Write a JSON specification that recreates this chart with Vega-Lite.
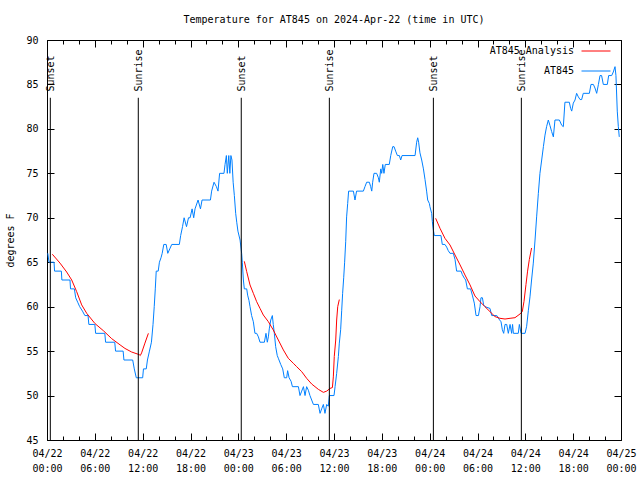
{
  "$schema": "https://vega.github.io/schema/vega-lite/v6.json",
  "width": 574,
  "height": 400,
  "autosize": {"type": "none"},
  "padding": {"left": 47, "top": 40, "right": 19, "bottom": 40},
  "background": "white",
  "title": {"text": "Temperature for AT845 on 2024-Apr-22 (time in UTC)", "fontSize": 10, "fontWeight": "normal", "font": "DejaVu Sans Mono", "anchor": "middle", "offset": 10, "color": "black"},
  "config": {
    "font": "DejaVu Sans Mono",
    "view": {"stroke": "black", "strokeWidth": 1},
    "axis": {"domain": false, "grid": false, "labelFont": "DejaVu Sans Mono", "labelFontSize": 10, "labelColor": "black", "tickColor": "black", "tickWidth": 1, "titleFont": "DejaVu Sans Mono", "titleFontSize": 10, "titleFontWeight": "normal", "titleColor": "black", "labelFlush": false, "labelOverlap": false, "labelBound": false},
    "legend": {"labelFont": "DejaVu Sans Mono", "labelFontSize": 10, "labelColor": "black"}
  },
  "datasets": {
    "obs": [
      {"t":"2024-04-22T00:06Z","v":66},{"t":"2024-04-22T00:15Z","v":65},{"t":"2024-04-22T00:53Z","v":65},{"t":"2024-04-22T00:57Z","v":64},{"t":"2024-04-22T01:48Z","v":64},{"t":"2024-04-22T01:52Z","v":63},{"t":"2024-04-22T02:53Z","v":63},{"t":"2024-04-22T02:57Z","v":62},{"t":"2024-04-22T03:26Z","v":62},{"t":"2024-04-22T03:36Z","v":61},{"t":"2024-04-22T03:51Z","v":60.5},{"t":"2024-04-22T04:06Z","v":60},{"t":"2024-04-22T04:27Z","v":59.5},{"t":"2024-04-22T04:45Z","v":59},{"t":"2024-04-22T05:09Z","v":59},{"t":"2024-04-22T05:15Z","v":58},{"t":"2024-04-22T06:00Z","v":58},{"t":"2024-04-22T06:06Z","v":57},{"t":"2024-04-22T07:15Z","v":57},{"t":"2024-04-22T07:21Z","v":56},{"t":"2024-04-22T08:30Z","v":56},{"t":"2024-04-22T08:36Z","v":55},{"t":"2024-04-22T09:33Z","v":55},{"t":"2024-04-22T09:39Z","v":54},{"t":"2024-04-22T10:45Z","v":54},{"t":"2024-04-22T10:57Z","v":53},{"t":"2024-04-22T11:12Z","v":52},{"t":"2024-04-22T12:00Z","v":52},{"t":"2024-04-22T12:06Z","v":53},{"t":"2024-04-22T12:27Z","v":53},{"t":"2024-04-22T12:36Z","v":54},{"t":"2024-04-22T12:51Z","v":55},{"t":"2024-04-22T13:06Z","v":56},{"t":"2024-04-22T13:18Z","v":58},{"t":"2024-04-22T13:27Z","v":60},{"t":"2024-04-22T13:35Z","v":62},{"t":"2024-04-22T13:42Z","v":64},{"t":"2024-04-22T13:57Z","v":64},{"t":"2024-04-22T14:06Z","v":65},{"t":"2024-04-22T14:18Z","v":65.5},{"t":"2024-04-22T14:27Z","v":66},{"t":"2024-04-22T14:39Z","v":67},{"t":"2024-04-22T14:57Z","v":67},{"t":"2024-04-22T15:09Z","v":66},{"t":"2024-04-22T15:24Z","v":66.5},{"t":"2024-04-22T15:39Z","v":67},{"t":"2024-04-22T16:36Z","v":67},{"t":"2024-04-22T16:46Z","v":68},{"t":"2024-04-22T17:00Z","v":69},{"t":"2024-04-22T17:12Z","v":70},{"t":"2024-04-22T17:30Z","v":69},{"t":"2024-04-22T17:45Z","v":70},{"t":"2024-04-22T17:57Z","v":70},{"t":"2024-04-22T18:12Z","v":71},{"t":"2024-04-22T18:24Z","v":70},{"t":"2024-04-22T18:34Z","v":71},{"t":"2024-04-22T18:57Z","v":72},{"t":"2024-04-22T19:15Z","v":71},{"t":"2024-04-22T19:27Z","v":72},{"t":"2024-04-22T20:30Z","v":72},{"t":"2024-04-22T20:39Z","v":73},{"t":"2024-04-22T20:57Z","v":74},{"t":"2024-04-22T21:15Z","v":73.5},{"t":"2024-04-22T21:27Z","v":73},{"t":"2024-04-22T21:39Z","v":75},{"t":"2024-04-22T22:12Z","v":75},{"t":"2024-04-22T22:20Z","v":76},{"t":"2024-04-22T22:30Z","v":77},{"t":"2024-04-22T22:37Z","v":75},{"t":"2024-04-22T22:48Z","v":77},{"t":"2024-04-22T22:56Z","v":75},{"t":"2024-04-22T23:04Z","v":77},{"t":"2024-04-22T23:12Z","v":76.5},{"t":"2024-04-22T23:21Z","v":74},{"t":"2024-04-22T23:30Z","v":72.5},{"t":"2024-04-22T23:40Z","v":70.5},{"t":"2024-04-22T23:48Z","v":69.5},{"t":"2024-04-22T23:57Z","v":68.5},
      {"t":"2024-04-23T00:13Z","v":67.5},{"t":"2024-04-23T00:25Z","v":66},{"t":"2024-04-23T00:30Z","v":65},{"t":"2024-04-23T00:38Z","v":63},{"t":"2024-04-23T00:45Z","v":62},{"t":"2024-04-23T01:03Z","v":62},{"t":"2024-04-23T01:10Z","v":61.3},{"t":"2024-04-23T01:20Z","v":60.7},{"t":"2024-04-23T01:28Z","v":60},{"t":"2024-04-23T01:40Z","v":59},{"t":"2024-04-23T01:53Z","v":58.3},{"t":"2024-04-23T02:05Z","v":57},{"t":"2024-04-23T02:18Z","v":57},{"t":"2024-04-23T02:31Z","v":56.6},{"t":"2024-04-23T02:43Z","v":56},{"t":"2024-04-23T03:16Z","v":56},{"t":"2024-04-23T03:28Z","v":57},{"t":"2024-04-23T03:38Z","v":56},{"t":"2024-04-23T03:46Z","v":56.6},{"t":"2024-04-23T03:53Z","v":57.5},{"t":"2024-04-23T04:04Z","v":58.5},{"t":"2024-04-23T04:16Z","v":59},{"t":"2024-04-23T04:23Z","v":58},{"t":"2024-04-23T04:31Z","v":57},{"t":"2024-04-23T04:41Z","v":55.5},{"t":"2024-04-23T04:53Z","v":54.5},{"t":"2024-04-23T05:01Z","v":54.2},{"t":"2024-04-23T05:19Z","v":53.5},{"t":"2024-04-23T05:34Z","v":53},{"t":"2024-04-23T05:46Z","v":52},{"t":"2024-04-23T06:04Z","v":52},{"t":"2024-04-23T06:11Z","v":52.8},{"t":"2024-04-23T06:22Z","v":52},{"t":"2024-04-23T06:37Z","v":51.6},{"t":"2024-04-23T06:47Z","v":51},{"t":"2024-04-23T07:32Z","v":51},{"t":"2024-04-23T07:44Z","v":50},{"t":"2024-04-23T07:57Z","v":50.5},{"t":"2024-04-23T08:10Z","v":51},{"t":"2024-04-23T08:22Z","v":50},{"t":"2024-04-23T08:34Z","v":51},{"t":"2024-04-23T08:47Z","v":50.6},{"t":"2024-04-23T08:59Z","v":50},{"t":"2024-04-23T09:25Z","v":49},{"t":"2024-04-23T10:02Z","v":49},{"t":"2024-04-23T10:15Z","v":48},{"t":"2024-04-23T10:27Z","v":48.5},{"t":"2024-04-23T10:40Z","v":49},{"t":"2024-04-23T10:52Z","v":48},{"t":"2024-04-23T11:05Z","v":49},{"t":"2024-04-23T11:17Z","v":48.8},{"t":"2024-04-23T11:25Z","v":50},{"t":"2024-04-23T12:00Z","v":50},{"t":"2024-04-23T12:08Z","v":51},{"t":"2024-04-23T12:20Z","v":52.5},{"t":"2024-04-23T12:33Z","v":54.4},{"t":"2024-04-23T12:40Z","v":55.9},{"t":"2024-04-23T12:50Z","v":57.4},{"t":"2024-04-23T12:58Z","v":59.6},{"t":"2024-04-23T13:05Z","v":61.5},{"t":"2024-04-23T13:13Z","v":63.25},{"t":"2024-04-23T13:20Z","v":65},{"t":"2024-04-23T13:28Z","v":67.3},{"t":"2024-04-23T13:35Z","v":70.1},{"t":"2024-04-23T13:43Z","v":71.6},{"t":"2024-04-23T13:50Z","v":73},{"t":"2024-04-23T14:26Z","v":73},{"t":"2024-04-23T14:38Z","v":72},{"t":"2024-04-23T14:50Z","v":73},{"t":"2024-04-23T15:41Z","v":73},{"t":"2024-04-23T15:53Z","v":73.5},{"t":"2024-04-23T16:06Z","v":74},{"t":"2024-04-23T16:26Z","v":74},{"t":"2024-04-23T16:36Z","v":73.5},{"t":"2024-04-23T16:44Z","v":73},{"t":"2024-04-23T16:51Z","v":74},{"t":"2024-04-23T17:01Z","v":75},{"t":"2024-04-23T17:21Z","v":75},{"t":"2024-04-23T17:34Z","v":74.5},{"t":"2024-04-23T17:41Z","v":74},{"t":"2024-04-23T17:52Z","v":75.5},{"t":"2024-04-23T17:59Z","v":75},{"t":"2024-04-23T18:07Z","v":76},{"t":"2024-04-23T18:16Z","v":75},{"t":"2024-04-23T18:26Z","v":76},{"t":"2024-04-23T18:56Z","v":76},{"t":"2024-04-23T19:07Z","v":77},{"t":"2024-04-23T19:22Z","v":78},{"t":"2024-04-23T19:32Z","v":78},{"t":"2024-04-23T19:44Z","v":77.5},{"t":"2024-04-23T19:57Z","v":77},{"t":"2024-04-23T20:12Z","v":77},{"t":"2024-04-23T20:22Z","v":76.5},{"t":"2024-04-23T20:32Z","v":77},{"t":"2024-04-23T22:10Z","v":77},{"t":"2024-04-23T22:22Z","v":78.5},{"t":"2024-04-23T22:30Z","v":79},{"t":"2024-04-23T22:37Z","v":78.5},{"t":"2024-04-23T22:47Z","v":77.3},{"t":"2024-04-23T23:00Z","v":76.5},{"t":"2024-04-23T23:13Z","v":75.5},{"t":"2024-04-23T23:25Z","v":74.3},{"t":"2024-04-23T23:37Z","v":73},{"t":"2024-04-23T23:45Z","v":72},{"t":"2024-04-23T23:58Z","v":71.6},
      {"t":"2024-04-24T00:02Z","v":71.25},{"t":"2024-04-24T00:15Z","v":70.5},{"t":"2024-04-24T00:20Z","v":69.6},{"t":"2024-04-24T00:28Z","v":68.6},{"t":"2024-04-24T00:35Z","v":68},{"t":"2024-04-24T01:25Z","v":68},{"t":"2024-04-24T01:35Z","v":67},{"t":"2024-04-24T01:55Z","v":67},{"t":"2024-04-24T02:08Z","v":66.7},{"t":"2024-04-24T02:20Z","v":66.3},{"t":"2024-04-24T02:33Z","v":66},{"t":"2024-04-24T02:58Z","v":66},{"t":"2024-04-24T03:11Z","v":65.3},{"t":"2024-04-24T03:23Z","v":64},{"t":"2024-04-24T03:56Z","v":64},{"t":"2024-04-24T04:06Z","v":63.6},{"t":"2024-04-24T04:21Z","v":63.2},{"t":"2024-04-24T04:31Z","v":63},{"t":"2024-04-24T04:44Z","v":62},{"t":"2024-04-24T05:08Z","v":62},{"t":"2024-04-24T05:21Z","v":61.3},{"t":"2024-04-24T05:36Z","v":60.4},{"t":"2024-04-24T05:49Z","v":59},{"t":"2024-04-24T06:07Z","v":59},{"t":"2024-04-24T06:19Z","v":60},{"t":"2024-04-24T06:26Z","v":61},{"t":"2024-04-24T06:37Z","v":61},{"t":"2024-04-24T06:46Z","v":60.2},{"t":"2024-04-24T06:56Z","v":60},{"t":"2024-04-24T07:34Z","v":59.8},{"t":"2024-04-24T07:47Z","v":59},{"t":"2024-04-24T08:25Z","v":59},{"t":"2024-04-24T08:42Z","v":58.6},{"t":"2024-04-24T08:57Z","v":58.3},{"t":"2024-04-24T09:07Z","v":57.4},{"t":"2024-04-24T09:17Z","v":57},{"t":"2024-04-24T09:27Z","v":58},{"t":"2024-04-24T09:40Z","v":58},{"t":"2024-04-24T09:52Z","v":57},{"t":"2024-04-24T10:05Z","v":58},{"t":"2024-04-24T10:17Z","v":57},{"t":"2024-04-24T10:24Z","v":58},{"t":"2024-04-24T10:30Z","v":57},{"t":"2024-04-24T11:07Z","v":57},{"t":"2024-04-24T11:15Z","v":58},{"t":"2024-04-24T11:28Z","v":57},{"t":"2024-04-24T11:58Z","v":57},{"t":"2024-04-24T12:10Z","v":57.8},{"t":"2024-04-24T12:23Z","v":59.6},{"t":"2024-04-24T12:35Z","v":61.1},{"t":"2024-04-24T12:47Z","v":63},{"t":"2024-04-24T13:00Z","v":64.9},{"t":"2024-04-24T13:13Z","v":67.5},{"t":"2024-04-24T13:25Z","v":70.1},{"t":"2024-04-24T13:38Z","v":72.75},{"t":"2024-04-24T13:50Z","v":75},{"t":"2024-04-24T14:03Z","v":76.5},{"t":"2024-04-24T14:16Z","v":78},{"t":"2024-04-24T14:28Z","v":79.3},{"t":"2024-04-24T14:40Z","v":80.25},{"t":"2024-04-24T14:53Z","v":81},{"t":"2024-04-24T15:05Z","v":80.4},{"t":"2024-04-24T15:18Z","v":79.7},{"t":"2024-04-24T15:31Z","v":79.1},{"t":"2024-04-24T15:43Z","v":81},{"t":"2024-04-24T16:16Z","v":81},{"t":"2024-04-24T16:34Z","v":80.4},{"t":"2024-04-24T16:46Z","v":80.25},{"t":"2024-04-24T16:58Z","v":83},{"t":"2024-04-24T17:31Z","v":83},{"t":"2024-04-24T17:41Z","v":82.3},{"t":"2024-04-24T17:49Z","v":82},{"t":"2024-04-24T18:01Z","v":82.9},{"t":"2024-04-24T18:14Z","v":83.25},{"t":"2024-04-24T18:26Z","v":84},{"t":"2024-04-24T18:39Z","v":83.6},{"t":"2024-04-24T18:52Z","v":83.3},{"t":"2024-04-24T19:04Z","v":83.3},{"t":"2024-04-24T19:16Z","v":84},{"t":"2024-04-24T20:02Z","v":84},{"t":"2024-04-24T20:14Z","v":85},{"t":"2024-04-24T20:32Z","v":85},{"t":"2024-04-24T20:44Z","v":84.6},{"t":"2024-04-24T20:57Z","v":84},{"t":"2024-04-24T21:10Z","v":85},{"t":"2024-04-24T21:22Z","v":86},{"t":"2024-04-24T21:34Z","v":86},{"t":"2024-04-24T21:47Z","v":85},{"t":"2024-04-24T22:17Z","v":85},{"t":"2024-04-24T22:27Z","v":86},{"t":"2024-04-24T22:50Z","v":86},{"t":"2024-04-24T23:02Z","v":86.4},{"t":"2024-04-24T23:15Z","v":87},{"t":"2024-04-24T23:22Z","v":86},{"t":"2024-04-24T23:32Z","v":82},{"t":"2024-04-24T23:40Z","v":80.25},{"t":"2024-04-24T23:47Z","v":79.1}
    ],
    "ana": [
      {"seg":1,"t":"2024-04-22T00:40Z","v":65.9},{"seg":1,"t":"2024-04-22T01:38Z","v":64.9},{"seg":1,"t":"2024-04-22T02:28Z","v":63.9},{"seg":1,"t":"2024-04-22T03:06Z","v":63.0},{"seg":1,"t":"2024-04-22T03:43Z","v":61.7},{"seg":1,"t":"2024-04-22T04:21Z","v":60.2},{"seg":1,"t":"2024-04-22T04:59Z","v":59.25},{"seg":1,"t":"2024-04-22T06:01Z","v":58.1},{"seg":1,"t":"2024-04-22T07:04Z","v":57.3},{"seg":1,"t":"2024-04-22T08:07Z","v":56.4},{"seg":1,"t":"2024-04-22T09:10Z","v":55.7},{"seg":1,"t":"2024-04-22T09:47Z","v":55.3},{"seg":1,"t":"2024-04-22T10:37Z","v":54.9},{"seg":1,"t":"2024-04-22T11:35Z","v":54.6},{"seg":1,"t":"2024-04-22T11:42Z","v":54.5},{"seg":1,"t":"2024-04-22T11:52Z","v":54.8},{"seg":1,"t":"2024-04-22T12:17Z","v":55.9},{"seg":1,"t":"2024-04-22T12:43Z","v":57.0},
      {"seg":2,"t":"2024-04-23T00:45Z","v":65.1},{"seg":2,"t":"2024-04-23T01:03Z","v":63.94},{"seg":2,"t":"2024-04-23T01:28Z","v":62.44},{"seg":2,"t":"2024-04-23T01:53Z","v":61.5},{"seg":2,"t":"2024-04-23T02:18Z","v":60.56},{"seg":2,"t":"2024-04-23T02:43Z","v":59.81},{"seg":2,"t":"2024-04-23T03:08Z","v":59.06},{"seg":2,"t":"2024-04-23T03:46Z","v":58.31},{"seg":2,"t":"2024-04-23T04:23Z","v":57.38},{"seg":2,"t":"2024-04-23T05:01Z","v":56.25},{"seg":2,"t":"2024-04-23T05:39Z","v":55.13},{"seg":2,"t":"2024-04-23T06:16Z","v":54.19},{"seg":2,"t":"2024-04-23T06:54Z","v":53.63},{"seg":2,"t":"2024-04-23T07:19Z","v":53.25},{"seg":2,"t":"2024-04-23T07:57Z","v":52.69},{"seg":2,"t":"2024-04-23T08:34Z","v":51.94},{"seg":2,"t":"2024-04-23T09:12Z","v":51.3},{"seg":2,"t":"2024-04-23T10:02Z","v":50.7},{"seg":2,"t":"2024-04-23T10:40Z","v":50.36},{"seg":2,"t":"2024-04-23T11:05Z","v":50.5},{"seg":2,"t":"2024-04-23T11:30Z","v":50.8},{"seg":2,"t":"2024-04-23T11:48Z","v":50.9},{"seg":2,"t":"2024-04-23T11:55Z","v":52.1},{"seg":2,"t":"2024-04-23T12:02Z","v":54.4},{"seg":2,"t":"2024-04-23T12:13Z","v":56.25},{"seg":2,"t":"2024-04-23T12:20Z","v":58.5},{"seg":2,"t":"2024-04-23T12:28Z","v":60},{"seg":2,"t":"2024-04-23T12:40Z","v":60.8},
      {"seg":3,"t":"2024-04-24T00:45Z","v":69.94},{"seg":3,"t":"2024-04-24T01:18Z","v":68.81},{"seg":3,"t":"2024-04-24T01:55Z","v":67.69},{"seg":3,"t":"2024-04-24T02:33Z","v":66.94},{"seg":3,"t":"2024-04-24T03:11Z","v":65.81},{"seg":3,"t":"2024-04-24T03:49Z","v":64.69},{"seg":3,"t":"2024-04-24T04:26Z","v":63.56},{"seg":3,"t":"2024-04-24T05:04Z","v":62.44},{"seg":3,"t":"2024-04-24T05:41Z","v":61.2},{"seg":3,"t":"2024-04-24T06:19Z","v":60.56},{"seg":3,"t":"2024-04-24T06:56Z","v":60.0},{"seg":3,"t":"2024-04-24T07:34Z","v":59.44},{"seg":3,"t":"2024-04-24T08:12Z","v":58.88},{"seg":3,"t":"2024-04-24T08:49Z","v":58.69},{"seg":3,"t":"2024-04-24T09:27Z","v":58.61},{"seg":3,"t":"2024-04-24T10:05Z","v":58.69},{"seg":3,"t":"2024-04-24T10:42Z","v":58.76},{"seg":3,"t":"2024-04-24T11:20Z","v":59.18},{"seg":3,"t":"2024-04-24T11:37Z","v":59.44},{"seg":3,"t":"2024-04-24T11:50Z","v":60.6},{"seg":3,"t":"2024-04-24T12:05Z","v":62.5},{"seg":3,"t":"2024-04-24T12:17Z","v":64},{"seg":3,"t":"2024-04-24T12:30Z","v":65.3},{"seg":3,"t":"2024-04-24T12:47Z","v":66.6}
    ],
    "sun": [
      {"t":"2024-04-22T00:25Z","event":"Sunset","top":83.5,"label":84.2,"bottom":45},
      {"t":"2024-04-22T11:27Z","event":"Sunrise","top":83.5,"label":84.2,"bottom":45},
      {"t":"2024-04-23T00:22Z","event":"Sunset","top":83.5,"label":84.2,"bottom":45},
      {"t":"2024-04-23T11:25Z","event":"Sunrise","top":83.5,"label":84.2,"bottom":45},
      {"t":"2024-04-24T00:28Z","event":"Sunset","top":83.5,"label":84.2,"bottom":45},
      {"t":"2024-04-24T11:30Z","event":"Sunrise","top":83.5,"label":84.2,"bottom":45}
    ]
  },
  "resolve": {"axis": {"x": "independent", "y": "independent"}},
  "layer": [
    {
      "data": {"name": "obs"},
      "mark": {"type": "line", "strokeWidth": 1},
      "encoding": {
        "x": {"field": "t", "type": "temporal",
              "scale": {"type": "utc", "domain": [1713744000000, 1714003200000], "nice": false},
              "axis": {"orient": "bottom", "title": null, "values": [1713744000000,1713765600000,1713787200000,1713808800000,1713830400000,1713852000000,1713873600000,1713895200000,1713916800000,1713938400000,1713960000000,1713981600000,1714003200000], "tickSize": -7, "labelPadding": 15, "labelLineHeight": 15, "labelAlign": "center", "labelBaseline": "top",
                       "labelExpr": "[utcFormat(datum.value, '%m/%d'), utcFormat(datum.value, '%H:%M')]"}},
        "y": {"field": "v", "type": "quantitative",
              "scale": {"domain": [45, 90], "nice": false, "zero": false},
              "axis": {"orient": "left", "title": "degrees F", "values": [45, 50, 55, 60, 65, 70, 75, 80, 85, 90], "tickSize": -7, "labelPadding": 16, "titlePadding": 10}},
        "color": {"datum": "AT845", "type": "nominal",
                  "scale": {"domain": ["AT845 Analysis", "AT845"], "range": ["#ff0000", "#0080ff"]},
                  "legend": {"title": null, "orient": "none", "legendX": 534, "legendY": -4, "symbolType": "stroke", "symbolSize": 841, "symbolStrokeWidth": 1, "labelAlign": "right", "labelOffset": -37, "rowPadding": -8, "padding": 0}}
      }
    },
    {
      "data": {"name": "ana"},
      "mark": {"type": "line", "strokeWidth": 1},
      "encoding": {
        "x": {"field": "t", "type": "temporal",
              "axis": {"orient": "bottom", "title": null, "labels": false, "values": [1713744000000,1713751200000,1713758400000,1713765600000,1713772800000,1713780000000,1713787200000,1713794400000,1713801600000,1713808800000,1713816000000,1713823200000,1713830400000,1713837600000,1713844800000,1713852000000,1713859200000,1713866400000,1713873600000,1713880800000,1713888000000,1713895200000,1713902400000,1713909600000,1713916800000,1713924000000,1713931200000,1713938400000,1713945600000,1713952800000,1713960000000,1713967200000,1713974400000,1713981600000,1713988800000,1713996000000,1714003200000], "tickSize": -4}},
        "y": {"field": "v", "type": "quantitative",
              "axis": {"orient": "right", "title": null, "labels": false, "values": [45, 50, 55, 60, 65, 70, 75, 80, 85, 90], "tickSize": -7}},
        "color": {"datum": "AT845 Analysis", "type": "nominal"},
        "detail": {"field": "seg", "type": "nominal"}
      }
    },
    {
      "data": {"name": "sun"},
      "mark": {"type": "rule", "color": "black", "strokeWidth": 1},
      "encoding": {
        "x": {"field": "t", "type": "temporal",
              "axis": {"orient": "top", "title": null, "labels": false, "values": [1713744000000,1713765600000,1713787200000,1713808800000,1713830400000,1713852000000,1713873600000,1713895200000,1713916800000,1713938400000,1713960000000,1713981600000,1714003200000], "tickSize": -7}},
        "y": {"field": "top", "type": "quantitative", "axis": null},
        "y2": {"field": "bottom"}
      }
    },
    {
      "data": {"name": "sun"},
      "mark": {"type": "text", "angle": 270, "align": "left", "baseline": "middle", "fontSize": 10, "font": "DejaVu Sans Mono", "color": "black", "dy": 1},
      "encoding": {
        "x": {"field": "t", "type": "temporal",
              "axis": {"orient": "top", "title": null, "labels": false, "values": [1713744000000,1713751200000,1713758400000,1713765600000,1713772800000,1713780000000,1713787200000,1713794400000,1713801600000,1713808800000,1713816000000,1713823200000,1713830400000,1713837600000,1713844800000,1713852000000,1713859200000,1713866400000,1713873600000,1713880800000,1713888000000,1713895200000,1713902400000,1713909600000,1713916800000,1713924000000,1713931200000,1713938400000,1713945600000,1713952800000,1713960000000,1713967200000,1713974400000,1713981600000,1713988800000,1713996000000,1714003200000], "tickSize": -4}},
        "y": {"field": "label", "type": "quantitative", "axis": null},
        "text": {"field": "event"}
      }
    }
  ]
}
